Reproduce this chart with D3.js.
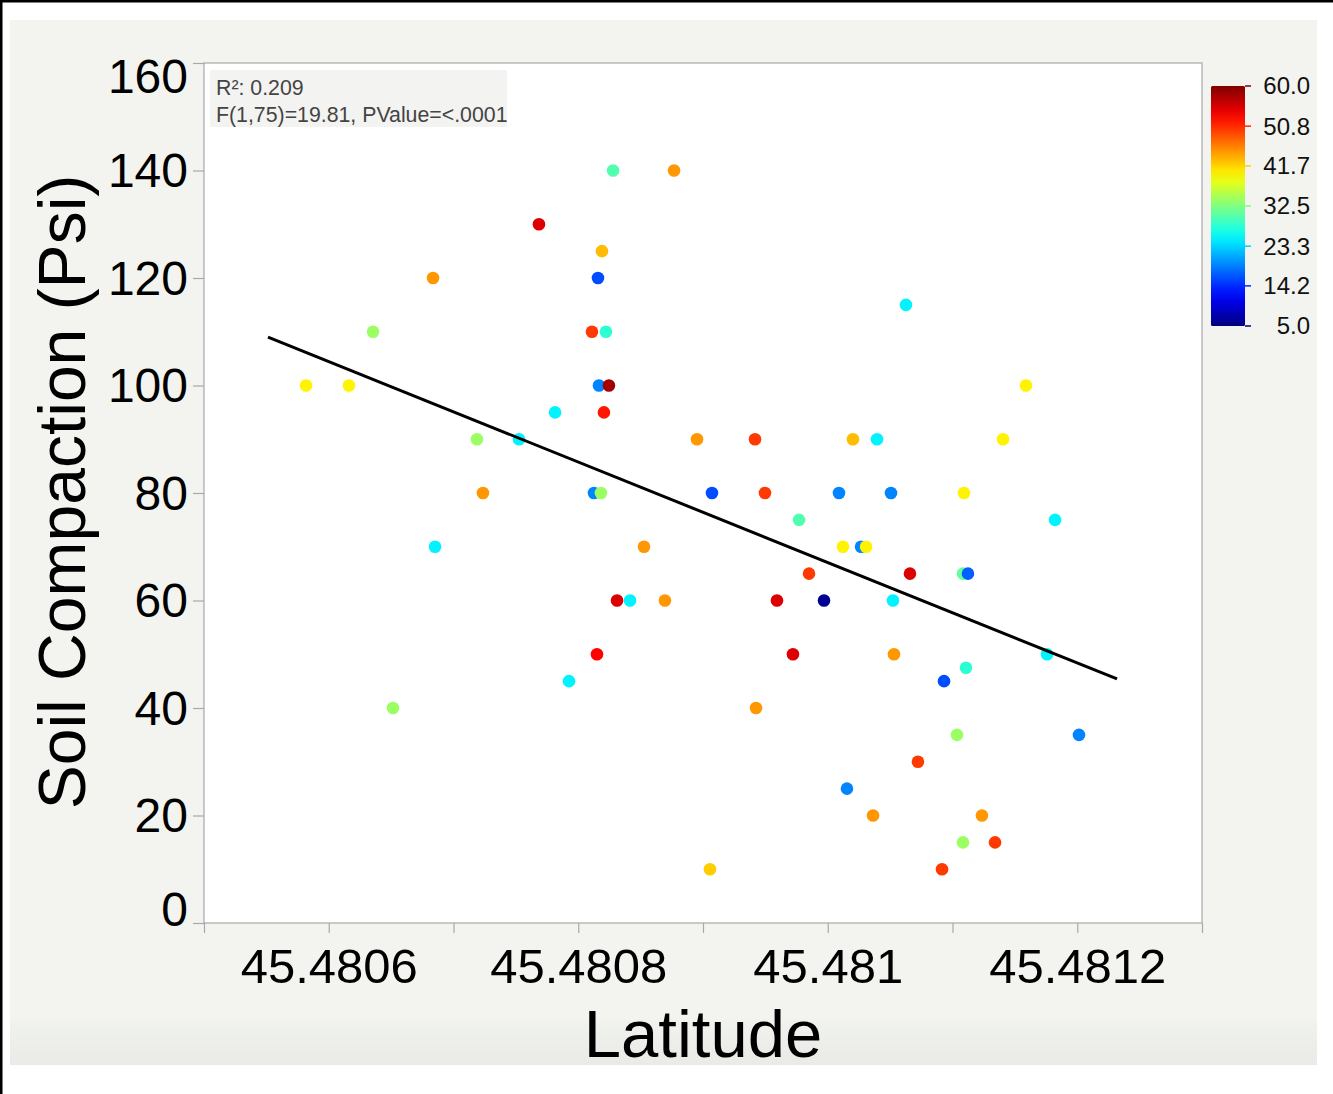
<!DOCTYPE html>
<html>
<head>
<meta charset="utf-8">
<script src="https://cdn.jsdelivr.net/npm/d3@7"></script>
<style>
  html, body { margin: 0; padding: 0; background: #ffffff; }
  svg { display: block; font-family: "Liberation Sans", Arial, Helvetica, sans-serif; }
</style>
</head>
<body>
<svg id="chart" width="1333" height="1094"></svg>
<script>
// ---------------- data ----------------
const latitude = [
  45.4808279, 45.4808768, 45.4807685, 45.4808190, 45.4806836, 45.4808158, 45.4810627,
  45.4806355, 45.4808110, 45.4808222, 45.4805818, 45.4806162, 45.4808166, 45.4808246,
  45.4811589, 45.4807814, 45.4808206, 45.4807188, 45.4807525, 45.4808952, 45.4809417,
  45.4810202, 45.4810395, 45.4811405, 45.4807236, 45.4808126, 45.4808182, 45.4809072,
  45.4809497, 45.4810090, 45.4810507, 45.4811092, 45.4809770, 45.4811822, 45.4806852,
  45.4808527, 45.4810122, 45.4810267, 45.4810307, 45.4809850, 45.4810659, 45.4811084,
  45.4811124, 45.4808311, 45.4808415, 45.4808695, 45.4809593, 45.4809970, 45.4810523,
  45.4808150, 45.4809721, 45.4810531, 45.4811758, 45.4811108, 45.4807926, 45.4810932,
  45.4806515, 45.4809425, 45.4811036, 45.4812014, 45.4810723, 45.4810154, 45.4810363,
  45.4811236, 45.4811084, 45.4811341, 45.4809056, 45.4810916
];
const compaction = [
  140, 140, 130, 125, 120, 120, 115,
  110, 110, 110, 100, 100, 100, 100,
  100, 95, 95, 90, 90, 90, 90,
  90, 90, 90, 80, 80, 80, 80,
  80, 80, 80, 80, 75, 75, 70,
  70, 70, 70, 70, 65, 65, 65,
  65, 60, 60, 60, 60, 60, 60,
  50, 50, 50, 50, 47.5, 45, 45,
  40, 40, 35, 35, 30, 25, 20,
  20, 15, 15, 10, 10
];
const colorValue = [
  30, 45, 55, 43, 45, 16, 25,
  34, 50, 28, 40, 40, 19, 58,
  40, 25, 52, 34, 25, 45, 50,
  43, 25, 40, 45, 19, 34, 16,
  50, 19, 19, 40, 30, 25, 25,
  45, 40, 19, 40, 50, 55, 31,
  17, 55, 25, 45, 55, 6, 25,
  53, 55, 45, 25, 28, 25, 16,
  34, 45, 34, 19, 50, 19, 45,
  45, 34, 50, 42, 50
];
const fitLatitude = [45.4805513, 45.4812319];
const fitCompaction = [109.0, 45.4];

const yTickValues = [0, 20, 40, 60, 80, 100, 120, 140, 160];
const xTickValues = [45.4805, 45.4806, 45.4807, 45.4808, 45.4809, 45.4810, 45.4811, 45.4812, 45.4813];
const xTickLabels = ["", "45.4806", "", "45.4808", "", "45.481", "", "45.4812", ""];
const legendTickValues = [5.0, 14.2, 23.3, 32.5, 41.7, 50.8, 60.0];
const legendTickLabels = ["5.0", "14.2", "23.3", "32.5", "41.7", "50.8", "60.0"];
const statsLines = ["R\u00B2: 0.209", "F(1,75)=19.81, PValue=<.0001"];
const xTitle = "Latitude";
const yTitle = "Soil Compaction (Psi)";

// ---------------- layout ----------------
const svg = d3.select("#chart");
const W = 1333, H = 1094;
const plot = { left: 204, top: 63, right: 1202, bottom: 923 };

// jet colormap
function jet(t) {
  t = Math.max(0, Math.min(1, t));
  const c = v => Math.round(255 * Math.max(0, Math.min(1, v)));
  const r = 1.5 - Math.abs(4 * t - 3);
  const g = 1.5 - Math.abs(4 * t - 2);
  const b = 1.5 - Math.abs(4 * t - 1);
  return `rgb(${c(r)},${c(g)},${c(b)})`;
}
const cNorm = d3.scaleLinear().domain([5, 60]).range([0, 1]).clamp(true);
const colorOf = v => jet(cNorm(v));

const defs = svg.append("defs");
const bg = defs.append("linearGradient").attr("id", "panelGrad").attr("x1", 0).attr("x2", 0).attr("y1", 0).attr("y2", 1);
bg.append("stop").attr("offset", "0%").attr("stop-color", "#f3f3ef");
bg.append("stop").attr("offset", "95.4%").attr("stop-color", "#f3f3ef");
bg.append("stop").attr("offset", "96.5%").attr("stop-color", "#eff1ec");
bg.append("stop").attr("offset", "100%").attr("stop-color", "#eaeae6");

// page frame
svg.append("rect").attr("x", 0).attr("y", 0).attr("width", W).attr("height", H).attr("fill", "#ffffff");
svg.append("rect").attr("x", 10).attr("y", 20).attr("width", 1307).attr("height", 1045).attr("fill", "url(#panelGrad)");
svg.append("rect").attr("x", 0).attr("y", 0).attr("width", W).attr("height", 2.5).attr("fill", "#000");
svg.append("rect").attr("x", 0).attr("y", 0).attr("width", 2.5).attr("height", H).attr("fill", "#000");

// scales
const x = d3.scaleLinear().domain([45.4805, 45.4813]).range([plot.left, plot.right]);
const y = d3.scaleLinear().domain([0, 160]).range([plot.bottom, plot.top]);

// plot area
svg.append("rect")
  .attr("x", plot.left).attr("y", plot.top)
  .attr("width", plot.right - plot.left).attr("height", plot.bottom - plot.top)
  .attr("fill", "#ffffff").attr("stroke", "#a8a8a8").attr("stroke-width", 1.2);

// y axis
const yAxis = svg.append("g")
  .attr("transform", `translate(${plot.left},0)`)
  .call(d3.axisLeft(y).tickValues(yTickValues).tickSize(11).tickSizeOuter(0).tickPadding(5).tickFormat(d => String(d)));
yAxis.select(".domain").remove();
yAxis.selectAll(".tick line").attr("stroke", "#a8a8a8").attr("stroke-width", 1.2);
yAxis.selectAll(".tick text").attr("fill", "#000").style("font-size", "48px")
  .attr("dy", d => d === 160 ? "0.62em" : (d === 0 ? "0.05em" : "0.34em"));

// x axis
const xAxis = svg.append("g")
  .attr("transform", `translate(0,${plot.bottom})`)
  .call(d3.axisBottom(x).tickValues(xTickValues).tickSize(10).tickSizeOuter(0).tickPadding(15)
    .tickFormat((d, i) => xTickLabels[i]));
xAxis.select(".domain").remove();
xAxis.selectAll(".tick line").attr("stroke", "#a8a8a8").attr("stroke-width", 1.2);
xAxis.selectAll(".tick text").attr("fill", "#000").style("font-size", "49px");

// axis titles
svg.append("text")
  .attr("x", 703).attr("y", 1057)
  .attr("text-anchor", "middle")
  .style("font-size", "67px").attr("fill", "#000")
  .text(xTitle);
svg.append("text")
  .attr("transform", "translate(85,492) rotate(-90)")
  .attr("text-anchor", "middle")
  .style("font-size", "66px").attr("fill", "#000")
  .text(yTitle);

// stats box
svg.append("rect").attr("x", 210).attr("y", 70).attr("width", 297).attr("height", 57).attr("fill", "#f3f3f1");
svg.append("g").selectAll("text").data(statsLines).join("text")
  .attr("x", 216).attr("y", (d, i) => 95 + i * 27)
  .style("font-size", "21.3px").attr("fill", "#444")
  .text(d => d);

// points
const idx = d3.range(latitude.length);
svg.append("g").selectAll("circle").data(idx).join("circle")
  .attr("cx", i => x(latitude[i]))
  .attr("cy", i => y(compaction[i]))
  .attr("r", 6.3)
  .attr("fill", i => colorOf(colorValue[i]));

// regression line
svg.append("path")
  .attr("d", d3.line().x(i => x(fitLatitude[i])).y(i => y(fitCompaction[i]))([0, 1]))
  .attr("stroke", "#000").attr("stroke-width", 3).attr("fill", "none");

// color legend
const lg = { x: 1211, top: 86, bottom: 326, w: 34 };
const ly = d3.scaleLinear().domain([5, 60]).range([lg.bottom, lg.top]);
const grad = defs.append("linearGradient").attr("id", "jetGrad").attr("x1", 0).attr("x2", 0).attr("y1", 1).attr("y2", 0);
d3.range(0, 1.0001, 0.05).forEach(t => {
  grad.append("stop").attr("offset", `${t * 100}%`).attr("stop-color", jet(t));
});
svg.append("rect").attr("x", lg.x).attr("y", lg.top).attr("width", lg.w).attr("height", lg.bottom - lg.top)
  .attr("fill", "url(#jetGrad)").attr("rx", 1.5);
const lt = svg.append("g").selectAll("g").data(legendTickValues).join("g")
  .attr("transform", d => `translate(0,${ly(d)})`);
lt.append("line").attr("x1", lg.x + lg.w).attr("x2", lg.x + lg.w + 6)
  .attr("stroke", d => colorOf(d)).attr("stroke-width", 1.5);
lt.append("text").attr("x", 1310).attr("dy", "0.35em").attr("text-anchor", "end")
  .style("font-size", "24px").attr("fill", "#111")
  .text((d, i) => legendTickLabels[i]);
</script>
</body>
</html>
